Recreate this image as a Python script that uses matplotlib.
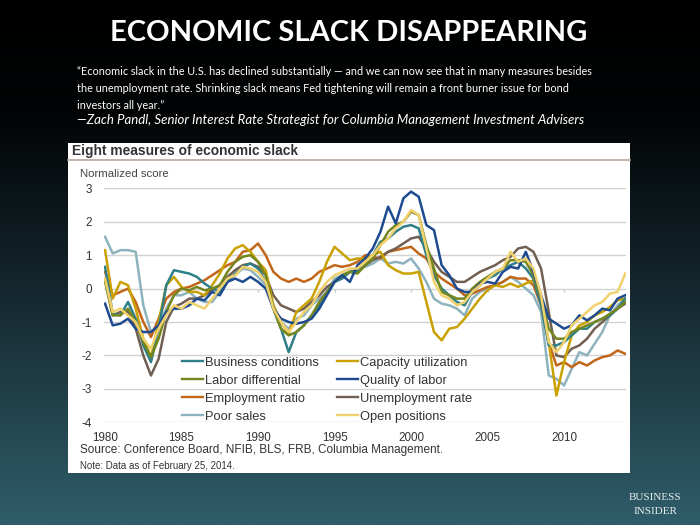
import numpy as np
import matplotlib
matplotlib.use("Agg")
import matplotlib.pyplot as plt
from matplotlib.colors import LinearSegmentedColormap
from matplotlib.patches import Rectangle
from matplotlib.lines import Line2D

# ---------------- data (semi-annual, 1980.0 .. 2014.0) ----------------
years = np.arange(1980.0, 2014.01, 0.5)

business_conditions = [
    0.65, -0.75, -0.8, -0.4, -0.9, -1.7, -2.2, -1.2, 0.1, 0.55, 0.5, 0.45, 0.35, 0.15, 0.0, -0.1, 0.2, 0.45, 0.65, 0.75,
    0.6, 0.2, -0.6, -1.2, -1.9, -1.3, -1.1, -0.8, -0.5, -0.1, 0.2, 0.3, 0.5, 0.5, 0.7, 1.0, 1.4, 1.5, 1.7, 1.85,
    1.9, 1.8, 1.0, 0.4, 0.0, -0.2, -0.4, -0.5, -0.1, 0.1, 0.3, 0.4, 0.6, 0.7, 0.8, 0.6, 0.3, -0.5, -1.7, -1.7,
    -1.6, -1.4, -1.2, -1.2, -1.0, -0.9, -0.8, -0.6, -0.3]
capacity_utilization = [
    1.15, -0.3, 0.2, 0.1, -0.6, -1.5, -2.05, -1.0, 0.1, 0.35, 0.05, -0.1, -0.1, -0.2, 0.1, 0.45, 0.9, 1.2, 1.3, 1.1,
    0.8, 0.55, -0.5, -1.0, -1.35, -0.7, -0.5, -0.3, 0.2, 0.8, 1.25, 1.05, 0.85, 0.9, 0.9, 1.0, 1.1, 0.7, 0.55, 0.45,
    0.45, 0.5, -0.4, -1.3, -1.55, -1.2, -1.15, -0.9, -0.6, -0.3, -0.05, 0.1, 0.05, 0.15, 0.05, 0.15, 0.25, -0.3, -1.6, -3.2,
    -2.2, -1.4, -1.1, -1.0, -0.8, -0.7, -0.55, -0.35, -0.3]
labor_differential = [
    0.2, -0.8, -0.8, -0.6, -1.0, -1.6, -2.05, -1.5, -0.7, -0.2, 0.0, -0.05, 0.05, -0.05, 0.0, 0.1, 0.5, 0.8, 0.95, 1.0,
    0.8, 0.4, -0.6, -1.2, -1.4, -1.3, -1.1, -0.8, -0.4, -0.1, 0.2, 0.4, 0.5, 0.45, 0.7, 0.9, 1.3, 1.7, 1.9, 2.0,
    2.3, 2.2, 1.3, 0.6, -0.1, -0.2, -0.3, -0.3, 0.0, 0.2, 0.35, 0.5, 0.6, 0.85, 0.85, 0.8, 0.4, -0.3, -1.2, -1.5,
    -1.5, -1.3, -1.2, -1.1, -1.0, -0.9, -0.75, -0.6, -0.4]
quality_of_labor = [
    -0.45, -1.1, -1.05, -0.9, -1.2, -1.3, -1.3, -1.1, -0.7, -0.6, -0.6, -0.5, -0.3, -0.35, -0.1, -0.2, 0.2, 0.3, 0.2, 0.35,
    0.2, 0.0, -0.6, -0.9, -1.0, -1.05, -1.0, -0.9, -0.6, -0.2, 0.2, 0.4, 0.2, 0.7, 0.9, 1.2, 1.7, 2.45, 1.95, 2.7,
    2.9, 2.75, 1.9, 1.75, 0.7, 0.4, 0.0, -0.1, -0.1, 0.15, 0.2, 0.15, 0.5, 0.65, 0.6, 1.1, 0.5, -0.2, -0.9, -1.05,
    -1.2, -1.1, -0.8, -0.95, -0.8, -0.6, -0.65, -0.3, -0.2]
employment_ratio = [
    0.5, -0.2, -0.1, 0.0, -0.4, -1.0, -1.45, -0.9, -0.3, -0.1, 0.0, 0.05, 0.15, 0.25, 0.4, 0.55, 0.7, 0.8, 1.1, 1.15,
    1.35, 1.0, 0.5, 0.3, 0.2, 0.3, 0.2, 0.3, 0.5, 0.6, 0.7, 0.65, 0.7, 0.8, 1.0, 0.95, 0.9, 1.1, 1.15, 1.2,
    1.25, 1.05, 0.9, 0.5, 0.3, 0.15, 0.0, -0.2, -0.15, -0.05, 0.05, 0.1, 0.2, 0.35, 0.3, 0.3, 0.1, -0.5, -1.6, -2.3,
    -2.2, -2.35, -2.2, -2.3, -2.15, -2.05, -2.0, -1.85, -1.95]
unemployment_rate = [
    0.3, -0.8, -0.7, -0.7, -1.2, -2.0, -2.6, -2.1, -1.0, -0.55, -0.45, -0.3, -0.3, -0.2, -0.05, 0.1, 0.35, 0.55, 0.7, 0.75,
    0.65, 0.4, -0.2, -0.5, -0.6, -0.7, -0.6, -0.4, -0.2, 0.05, 0.2, 0.4, 0.5, 0.55, 0.7, 0.85, 0.95, 1.1, 1.2, 1.35,
    1.5, 1.55, 1.2, 0.8, 0.5, 0.35, 0.2, 0.2, 0.35, 0.5, 0.6, 0.7, 0.85, 0.95, 1.2, 1.25, 1.1, 0.6, -0.7, -2.0,
    -2.05, -1.8, -1.7, -1.5, -1.2, -1.0, -0.8, -0.6, -0.45]
poor_sales = [
    1.55, 1.05, 1.15, 1.15, 1.1, -0.5, -1.3, -1.1, -0.6, -0.2, -0.2, -0.1, -0.3, -0.4, -0.4, -0.1, 0.3, 0.4, 0.6, 0.55,
    0.35, 0.1, -0.5, -1.0, -1.2, -0.9, -0.8, -0.5, -0.3, -0.1, 0.3, 0.4, 0.5, 0.6, 0.65, 0.75, 0.9, 0.75, 0.8, 0.75,
    0.9, 0.6, 0.2, -0.3, -0.45, -0.5, -0.6, -0.8, -0.3, -0.1, 0.0, 0.1, 0.2, 0.35, 0.2, 0.0, -0.2, -0.7, -2.6, -2.7,
    -2.9, -2.4, -1.9, -2.0, -1.65, -1.3, -0.8, -0.5, -0.3]
open_positions = [
    0.3, -0.7, -0.6, -0.8, -1.0, -1.5, -1.8, -1.2, -0.8, -0.5, -0.6, -0.4, -0.5, -0.6, -0.3, 0.0, 0.3, 0.4, 0.65, 0.6,
    0.5, 0.2, -0.6, -1.0, -1.3, -1.0, -0.7, -0.5, -0.1, 0.2, 0.4, 0.5, 0.6, 0.6, 0.8, 1.0, 1.3, 1.5, 1.8, 2.0,
    2.35, 2.2, 1.2, 0.2, -0.2, -0.3, -0.5, -0.4, -0.1, 0.1, 0.3, 0.5, 0.6, 1.1, 0.8, 0.9, 0.6, -0.2, -1.6, -1.9,
    -1.6, -1.1, -0.9, -0.7, -0.5, -0.4, -0.15, -0.1, 0.45]

series = [
    ("Business conditions", business_conditions, "#2f7f89"),
    ("Labor differential", labor_differential, "#76861e"),
    ("Employment ratio", employment_ratio, "#c2661a"),
    ("Poor sales", poor_sales, "#8db3be"),
    ("Capacity utilization", capacity_utilization, "#c9a100"),
    ("Quality of labor", quality_of_labor, "#1e4b8f"),
    ("Unemployment rate", unemployment_rate, "#705f52"),
    ("Open positions", open_positions, "#f1d16d"),
]
draw_order = ["Poor sales", "Employment ratio", "Unemployment rate", "Capacity utilization",
              "Business conditions", "Labor differential", "Quality of labor", "Open positions"]

y_ticks = [-4, -3, -2, -1, 0, 1, 2, 3]
x_ticks = [1980, 1985, 1990, 1995, 2000, 2005, 2010]

# ---------------- figure ----------------
W, H = 700, 525
fig = plt.figure(figsize=(W / 100, H / 100), dpi=100)

def fx(px):
    return px / W

def fy(py):
    return 1 - py / H

# background gradient
bg = fig.add_axes([0, 0, 1, 1])
cmap = LinearSegmentedColormap.from_list(
    "bg", [(0.0, "#000000"), (0.22, "#020405"), (0.55, "#15272e"), (1.0, "#2f5d6a")])
grad = np.linspace(0, 1, 256).reshape(-1, 1)
bg.imshow(grad, aspect="auto", cmap=cmap, extent=[0, 1, 0, 1], origin="upper")
bg.set_xlim(0, 1)
bg.set_ylim(0, 1)
bg.axis("off")

# white chart panel
bg.add_patch(Rectangle((fx(68), fy(473)), fx(630) - fx(68), fy(143) - fy(473),
                       transform=bg.transAxes, facecolor="white", edgecolor="none", zorder=2))
bg.add_line(Line2D([fx(68), fx(630)], [fy(160), fy(160)], transform=bg.transAxes,
                   color="#b8a79b", lw=1.2, zorder=3))

# slide texts
fig.text(fx(349), fy(33), "ECONOMIC SLACK DISAPPEARING", color="white", fontsize=21,
         family="Lato", weight="bold", ha="center", va="center")
quote = ("\u201cEconomic slack in the U.S. has declined substantially \u2014 and we can now see that in many measures besides\n"
         "the unemployment rate. Shrinking slack means Fed tightening will remain a front burner issue for bond\n"
         "investors all year.\u201d")
fig.text(fx(77), fy(66), quote, color="white", fontsize=7.8, family="Lato",
         ha="left", va="top", linespacing=1.68)
fig.text(fx(77), fy(119.5), "\u2014Zach Pandl, Senior Interest Rate Strategist for Columbia Management Investment Advisers",
         color="white", fontsize=9.55, family="Lato", style="italic", ha="left", va="center")
fig.text(fx(655), fy(497), "BUSINESS", color="#e6edf0", fontsize=8, family="Liberation Serif",
         ha="center", va="center")
fig.text(fx(655), fy(512), "INSIDER", color="#e6edf0", fontsize=8, family="Liberation Serif",
         ha="center", va="center")

# chart texts
fig.text(fx(72), fy(151), "Eight measures of economic slack", color="#333333", fontsize=9.9,
         family="Liberation Sans", weight="bold", ha="left", va="center")
fig.text(fx(80), fy(174), "Normalized score", color="#444444", fontsize=8.2,
         family="Liberation Sans", ha="left", va="center")
fig.text(fx(80), fy(450), "Source: Conference Board, NFIB, BLS, FRB, Columbia Management.", color="#333333",
         fontsize=8.5, family="Liberation Sans", ha="left", va="center")
fig.text(fx(80), fy(466), "Note: Data as of February 25, 2014.", color="#333333",
         fontsize=7.0, family="Liberation Sans", ha="left", va="center")

# main axes
ax = fig.add_axes([fx(104), fy(422.3), fx(626) - fx(104), fy(188.3) - fy(422.3)])
ax.set_facecolor("none")
ax.set_xlim(1979.93, 2014.05)
ax.set_ylim(-4, 3)
for s in ax.spines.values():
    s.set_visible(False)
ax.set_yticks(y_ticks)
ax.set_yticklabels([str(v) for v in y_ticks])
ax.set_xticks(x_ticks)
ax.set_xticklabels([str(v) for v in x_ticks])
ax.tick_params(axis="both", length=0, labelsize=8.4, labelcolor="#333333")
ax.tick_params(axis="y", pad=9)
ax.tick_params(axis="x", pad=7)
for lab in ax.get_xticklabels() + ax.get_yticklabels():
    lab.set_family("Liberation Sans")
ax.grid(axis="y", color="#d2d2d2", lw=1.0, zorder=0)
ax.vlines(x_ticks[1:], -0.09, 0, color="#c8c8c8", lw=1.0, zorder=1)

lookup = {n: (v, c) for n, v, c in series}
for z, name in enumerate(draw_order):
    vals, col = lookup[name]
    ax.plot(years, vals, color=col, lw=1.8, zorder=3 + z, solid_joinstyle="round")

handles = [Line2D([], [], color=c, lw=1.7) for _, _, c in series]
labels = [n for n, _, _ in series]
leg = ax.legend(handles, labels, ncol=2, loc="upper left", bbox_to_anchor=(fx(182), fy(356.5)),
                bbox_transform=fig.transFigure, frameon=False, fontsize=9.3, handlelength=1.6,
                handletextpad=0.15, columnspacing=1.45, labelspacing=0.47, borderaxespad=0, borderpad=0)
for t in leg.get_texts():
    t.set_color("#333333")
    t.set_family("Liberation Sans")

fig.savefig("out.png", dpi=100)
